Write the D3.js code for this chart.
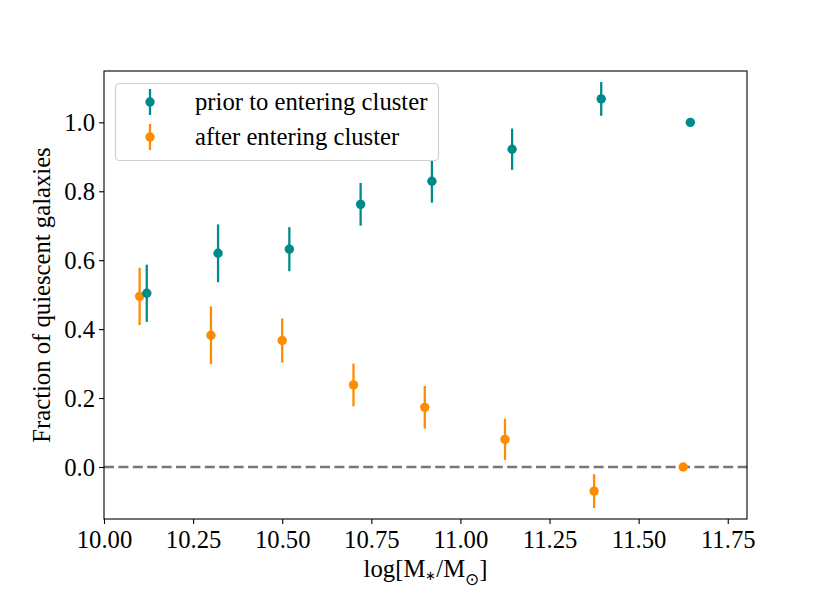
<!DOCTYPE html>
<html>
<head>
<meta charset="utf-8">
<script src="https://cdn.jsdelivr.net/npm/d3@7"></script>
<style>
  body { margin: 0; background: #fff; }
  text { font-family: "Liberation Serif", "Times New Roman", serif; fill: #000; }
</style>
</head>
<body>
<div id="chart"></div>
<script>
// bin centres (log stellar mass)
const massBins = [10.1, 10.3, 10.5, 10.7, 10.9, 11.125, 11.375, 11.625];
const priorOffset = 0.02;

// fraction of quiescent galaxies, prior to entering cluster
const priorFrac = [0.504, 0.620, 0.632, 0.762, 0.829, 0.922, 1.068, 1.0];
const priorErr = [0.083, 0.084, 0.064, 0.062, 0.062, 0.060, 0.049, 0];

// after entering cluster
const afterFrac = [0.495, 0.382, 0.367, 0.238, 0.173, 0.080, -0.070, 0.0];
const afterErr = [0.083, 0.084, 0.064, 0.062, 0.062, 0.060, 0.049, 0];

const xTicks = [10.0, 10.25, 10.5, 10.75, 11.0, 11.25, 11.5, 11.75];
const yTicks = [0.0, 0.2, 0.4, 0.6, 0.8, 1.0];

const W = 830, H = 593;
const margin = { top: 71, right: 83, bottom: 74, left: 104 };
const fs = "24.7px";

const svg = d3.select("#chart").append("svg")
  .attr("width", W)
  .attr("height", H);

const x = d3.scaleLinear()
  .domain([10.0, 11.804])
  .range([margin.left, W - margin.right]);
const y = d3.scaleLinear()
  .domain([-0.151, 1.149])
  .range([H - margin.bottom, margin.top]);

// zero line
svg.append("line")
  .attr("x1", x.range()[0]).attr("x2", x.range()[1])
  .attr("y1", y(0)).attr("y2", y(0))
  .attr("stroke", "#777")
  .attr("stroke-width", 2.6)
  .attr("stroke-dasharray", "10,4.4");

function drawSeries(fracs, errs, offset, color) {
  const g = svg.append("g");
  const pts = massBins.map((m, i) => [m + offset, fracs[i], errs[i]]);
  g.selectAll("line")
    .data(pts.filter(d => d[2] > 0))
    .enter().append("line")
    .attr("x1", d => x(d[0])).attr("x2", d => x(d[0]))
    .attr("y1", d => y(d[1] - d[2])).attr("y2", d => y(d[1] + d[2]))
    .attr("stroke", color)
    .attr("stroke-width", 2.3);
  g.selectAll("circle")
    .data(pts)
    .enter().append("circle")
    .attr("cx", d => x(d[0]))
    .attr("cy", d => y(d[1]))
    .attr("r", 4.7)
    .attr("fill", color);
}

drawSeries(afterFrac, afterErr, 0, "#ff8c00");
drawSeries(priorFrac, priorErr, priorOffset, "#008b8b");

// axes
const xAxis = svg.append("g")
  .attr("transform", `translate(0,${H - margin.bottom})`)
  .call(d3.axisBottom(x).tickValues(xTicks).tickFormat(d3.format(".2f")).tickSize(5).tickSizeOuter(0));
const yAxis = svg.append("g")
  .attr("transform", `translate(${margin.left},0)`)
  .call(d3.axisLeft(y).tickValues(yTicks).tickFormat(d3.format(".1f")).tickSize(5).tickSizeOuter(0));

[xAxis, yAxis].forEach(a => {
  a.attr("font-family", null).attr("font-size", null);
  a.select(".domain").remove();
  a.selectAll(".tick line").attr("stroke", "#000").attr("stroke-width", 1.1);
  a.selectAll("text").style("font-size", fs);
});
xAxis.selectAll("text").attr("dy", null).attr("y", 29);
yAxis.selectAll("text").attr("x", -9).attr("dy", "0.33em");

// frame
svg.append("rect")
  .attr("x", margin.left).attr("y", margin.top)
  .attr("width", W - margin.left - margin.right)
  .attr("height", H - margin.top - margin.bottom)
  .attr("fill", "none")
  .attr("stroke", "#000")
  .attr("stroke-width", 1.1);

// axis labels
const xl = svg.append("text")
  .attr("x", (margin.left + W - margin.right) / 2)
  .attr("y", 577)
  .attr("text-anchor", "middle")
  .style("font-size", fs);
xl.append("tspan").text("log[M");
xl.append("tspan").text("∗").attr("dy", 3).style("font-size", "13px");
xl.append("tspan").text("/M").attr("dy", -3);
xl.append("tspan").text("⊙").attr("dy", 8).style("font-size", "17px");
xl.append("tspan").text("]").attr("dy", -8);

svg.append("text")
  .attr("transform", `translate(50,${(margin.top + H - margin.bottom) / 2}) rotate(-90)`)
  .attr("text-anchor", "middle")
  .style("font-size", fs)
  .text("Fraction of quiescent galaxies");

// legend
const legend = svg.append("g");
legend.append("rect")
  .attr("x", 115.5).attr("y", 83.5)
  .attr("width", 323).attr("height", 77)
  .attr("rx", 4)
  .attr("fill", "#fff").attr("fill-opacity", 0.8)
  .attr("stroke", "#d0d0d0").attr("stroke-width", 1.2);

const legendItems = [
  { label: "prior to entering cluster", color: "#008b8b" },
  { label: "after entering cluster", color: "#ff8c00" }
];
const li = legend.selectAll("g.item")
  .data(legendItems)
  .enter().append("g")
  .attr("transform", (d, i) => `translate(150,${102 + i * 35})`);
li.append("line")
  .attr("y1", -13).attr("y2", 13)
  .attr("stroke", d => d.color).attr("stroke-width", 2.3);
li.append("circle").attr("r", 4.7).attr("fill", d => d.color);
li.append("text")
  .attr("x", 45).attr("dy", "0.33em")
  .style("font-size", fs)
  .text(d => d.label);
</script>
</body>
</html>
